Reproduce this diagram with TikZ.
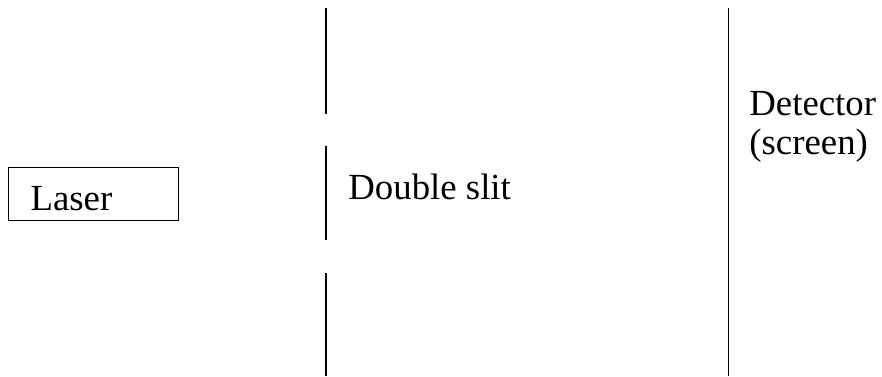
\documentclass[tikz,border=0pt]{standalone}
\usepackage{fontspec}
\setmainfont{Liberation Serif}
\usetikzlibrary{positioning}
\tikzset{
  wall/.style={line width=1pt},
  screenline/.style={line width=0.4pt},
  labeltext/.style={font=\fontsize{18.4}{19.5}\selectfont, inner sep=0pt, anchor=base west}
}

\begin{document}
\begin{tikzpicture}[x=0.5pt,y=0.5pt]
  \useasboundingbox (0,0) rectangle (882,376);

  % Laser source box
  \node[draw, line width=0.6pt, anchor=north west, text width=63pt, inner xsep=11pt,
        inner ysep=0pt, minimum height=26.5pt, text height=16.5pt, text depth=0pt,
        align=left, font=\fontsize{18.4}{19.5}\selectfont] (laser) at (8,209) {Laser};

  % Double slit (three wall pieces)
  \coordinate (s1a) at (326,368);
  \coordinate (s1b) at (326,262);
  \coordinate (s2a) at (326,230);
  \coordinate (s2b) at (326,136);
  \coordinate (s3a) at (326,103);
  \coordinate (s3b) at (326,0);
  \draw[wall] (s1a) -- (s1b);
  \draw[wall] (s2a) -- (s2b);
  \draw[wall] (s3a) -- (s3b);
  \node[labeltext] (slit) at (348,177) {Double slit};

  % Detector screen
  \coordinate (d1) at (728,368);
  \coordinate (d2) at (728,0);
  \draw[screenline] (d1) -- (d2);
  \node[labeltext, align=left] (detector) at (749,222) {Detector\\(screen)};
\end{tikzpicture}
\end{document}
